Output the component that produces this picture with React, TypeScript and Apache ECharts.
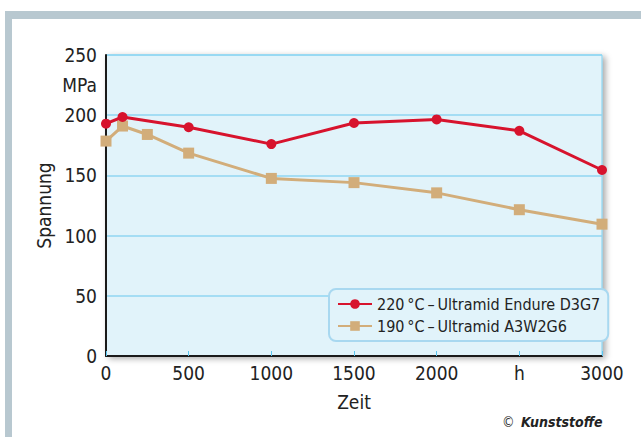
import React, { useEffect, useRef } from "react";
import * as echarts from "echarts";

const times220 = [0, 100, 500, 1000, 1500, 2000, 2500, 3000];
const values220 = [193, 198.5, 190, 176, 193.5, 196.5, 187, 154.5];
const times190 = [0, 100, 250, 500, 1000, 1500, 2000, 2500, 3000];
const values190 = [178.5, 191, 184, 168.5, 147.5, 144, 135.5, 121.5, 109.5];
const seriesNames = ["220\u202F°C\u202F–\u202FUltramid Endure D3G7", "190\u202F°C\u202F–\u202FUltramid A3W2G6"];
const xTickLabels: Record<number, string> = { 0: "0", 500: "500", 1000: "1000", 1500: "1500", 2000: "2000", 2500: "h", 3000: "3000" };
const yUnitLabel = "MPa";
const xName = "Zeit";
const yName = "Spannung";

const FONT = "'Liberation Sans Narrow', 'DejaVu Sans Condensed', 'Open Sans', sans-serif";

export default function App() {
  const ref = useRef<HTMLDivElement>(null);
  useEffect(() => {
    if (!ref.current) return;
    const chart = echarts.init(ref.current, undefined, { renderer: "svg" });
    chart.setOption({
      animation: false,
      backgroundColor: "#ffffff",
      textStyle: { fontFamily: FONT },
      graphic: [
        { type: "rect", left: 5, top: 11, shape: { width: 640, height: 8 }, style: { fill: "#b8c8d0" } },
        { type: "rect", left: 5, top: 11, shape: { width: 7, height: 430 }, style: { fill: "#b8c8d0" } },
        {
          type: "text",
          left: 502,
          top: 415,
          style: { text: "©", fontSize: 14, fill: "#333", fontFamily: FONT },
        },
        {
          type: "text",
          left: 521,
          top: 415,
          style: { text: "Kunststoffe", fontSize: 14, fontWeight: "bold", fontStyle: "italic", fill: "#222", fontFamily: FONT },
        },
      ],
      grid: {
        left: 106,
        top: 55,
        width: 496,
        height: 301,
        show: true,
        backgroundColor: "#e1f3fa",
        borderColor: "#7fd0f0",
        borderWidth: 1,
        shadowColor: "rgba(0,0,0,0.35)",
        shadowBlur: 6,
        shadowOffsetX: 3,
        shadowOffsetY: 2,
      },
      legend: {
        left: 329,
        top: 289,
        orient: "vertical",
        backgroundColor: "#e1f3fa",
        borderColor: "#a8d8f0",
        borderWidth: 2,
        borderRadius: 7,
        padding: [7, 8, 7, 8],
        itemGap: 6,
        itemWidth: 34,
        itemHeight: 12,
        textStyle: { fontSize: 16, color: "#222", fontFamily: FONT },
        data: seriesNames,
      },
      xAxis: {
        type: "value",
        min: 0,
        max: 3000,
        interval: 500,
        name: xName,
        nameLocation: "middle",
        nameGap: 36,
        nameTextStyle: { fontSize: 19, color: "#222", fontFamily: FONT },
        axisLine: { show: true, onZero: false, lineStyle: { color: "#1a1a1a", width: 2 } },
        axisTick: { show: true, inside: true, length: 5, lineStyle: { color: "#5cc5ef", width: 1 } },
        axisLabel: {
          fontSize: 19,
          color: "#222",
          margin: 7,
          fontFamily: FONT,
          formatter: (v: number) => xTickLabels[v] ?? "",
        },
        splitLine: { show: false },
      },
      yAxis: [
        {
          type: "value",
          min: 0,
          max: 250,
          interval: 50,
          name: yName,
          nameLocation: "middle",
          nameGap: 52,
          nameTextStyle: { fontSize: 19, color: "#222", fontFamily: FONT },
          axisLine: { show: true, lineStyle: { color: "#1a1a1a", width: 2 } },
          axisTick: { show: false },
          axisLabel: { fontSize: 19, color: "#222", margin: 9, fontFamily: FONT },
          splitLine: { show: true, lineStyle: { color: "#8fd6f2", width: 1.5 } },
        },
        {
          type: "value",
          min: 0,
          max: 250,
          interval: 25,
          position: "left",
          axisLine: { show: false },
          axisTick: { show: false },
          splitLine: { show: false },
          axisLabel: {
            fontSize: 19,
            color: "#222",
            margin: 9,
            fontFamily: FONT,
            formatter: (v: number) => (v === 225 ? yUnitLabel : ""),
          },
        },
      ],
      series: [
        {
          name: seriesNames[0],
          type: "line",
          data: times220.map((t, i) => [t, values220[i]]),
          symbol: "circle",
          symbolSize: 10,
          itemStyle: { color: "#d7132d" },
          lineStyle: { color: "#d7132d", width: 3 },
          z: 3,
        },
        {
          name: seriesNames[1],
          type: "line",
          data: times190.map((t, i) => [t, values190[i]]),
          symbol: "rect",
          symbolSize: 11,
          itemStyle: { color: "#d2ad7a" },
          lineStyle: { color: "#d2ad7a", width: 3 },
          z: 2,
        },
      ],
    });
    return () => chart.dispose();
  }, []);
  return <div ref={ref} style={{ position: "fixed", left: 0, top: 0, width: 641, height: 437 }} />;
}
